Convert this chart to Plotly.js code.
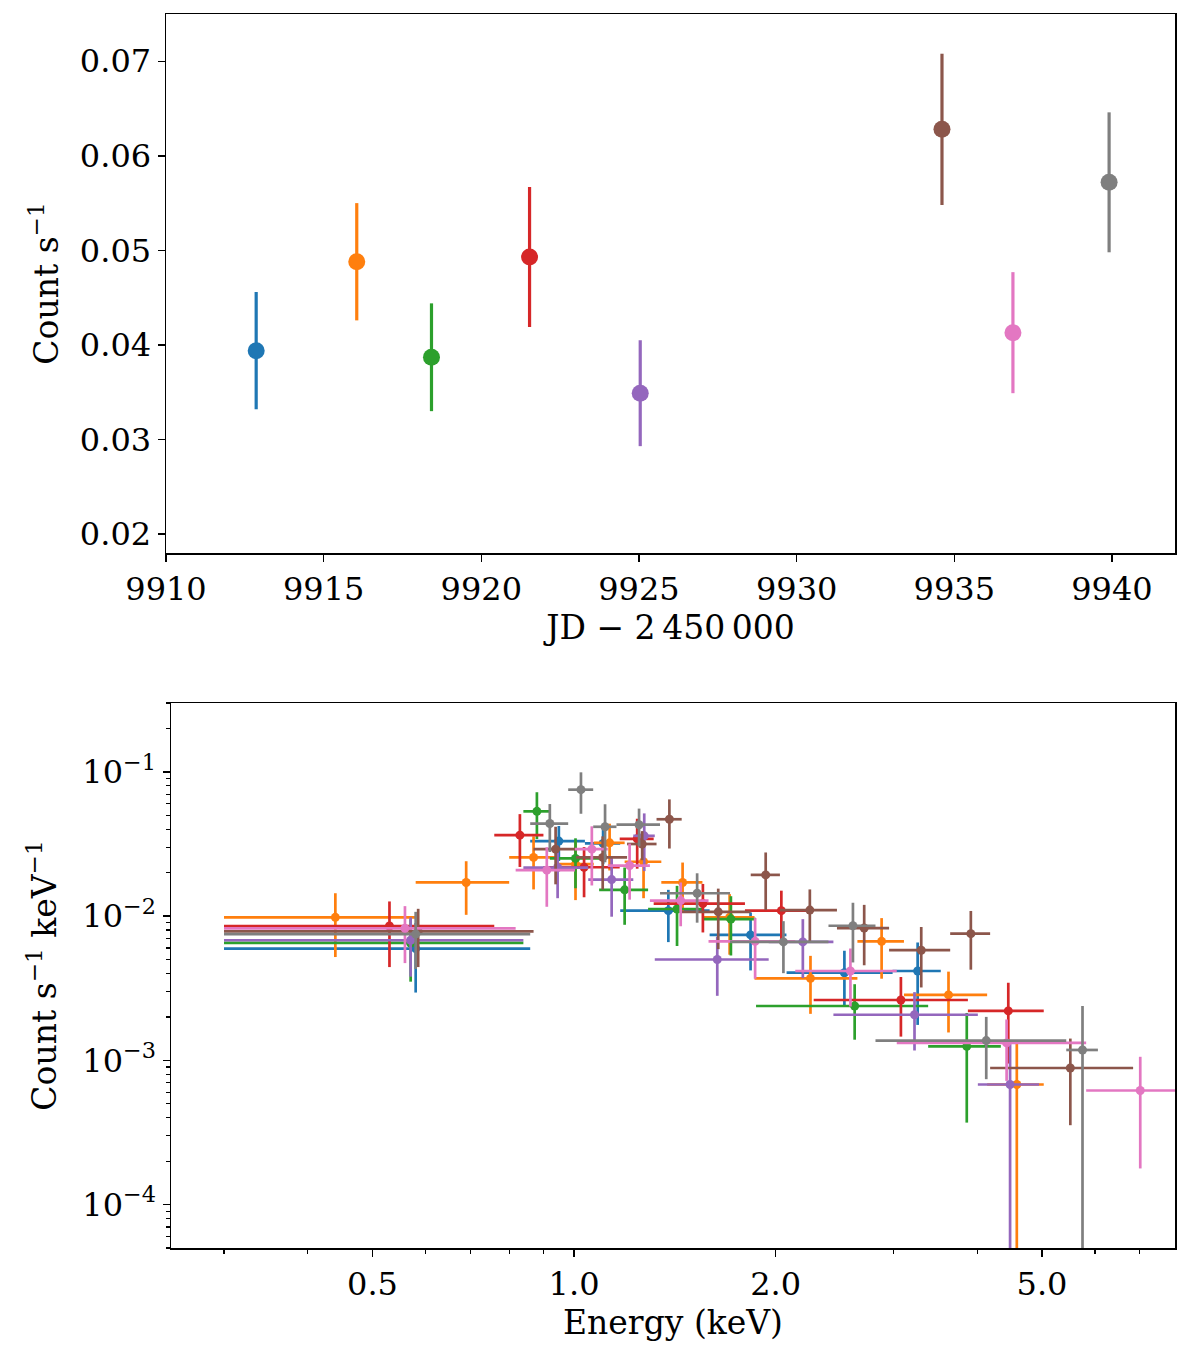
<!DOCTYPE html>
<html>
<head>
<meta charset="utf-8">
<script src="https://cdn.plot.ly/plotly-3.0.1.min.js"></script>
<style>
  html, body { margin: 0; padding: 0; background: #ffffff; }
  #chart { width: 1200px; height: 1354px; }
</style>
</head>
<body>
<div id="chart"></div>
<script>
// ---------- colours (matplotlib tab10) ----------
const colors = ['#1f77b4', '#ff7f0e', '#2ca02c', '#d62728', '#9467bd', '#8c564b', '#e377c2', '#7f7f7f'];

// ---------- top panel: light curve ----------
const jd      = [9912.86, 9916.05, 9918.42, 9921.53, 9925.04, 9934.61, 9936.86, 9939.91];
const rate    = [0.0394, 0.0488, 0.0387, 0.0493, 0.0349, 0.0628, 0.0413, 0.0572];
const rateErr = [0.0062, 0.0062, 0.0057, 0.0074, 0.0056, 0.0080, 0.0064, 0.0074];
const jdTicks     = [9910, 9915, 9920, 9925, 9930, 9935, 9940];
const jdTickText  = ['9910', '9915', '9920', '9925', '9930', '9935', '9940'];
const rateTicks   = [0.02, 0.03, 0.04, 0.05, 0.06, 0.07];

// ---------- bottom panel: spectra (energy centre, half bin width, rate, rate error) ----------
const e0  = [0.58, 0.949, 1.105, 1.383, 1.835, 2.534, 3.26];
const de0 = [0.28, 0.089, 0.067, 0.211, 0.241, 0.457, 0.27];
const r0  = [0.00595, 0.0331, 0.0319, 0.0109, 0.0074, 0.00405, 0.00416];
const dr0 = [0.0030, 0.0090, 0.0090, 0.0043, 0.0032, 0.0017, 0.0024];

const e1  = [0.44, 0.69, 0.87, 1.005, 1.13, 1.27, 1.4525, 1.7075, 2.255, 2.88, 3.625, 4.585];
const de1 = [0.14, 0.11, 0.07, 0.065, 0.06, 0.08, 0.1025, 0.1525, 0.395, 0.23, 0.515, 0.445];
const r1  = [0.0098, 0.0171, 0.0255, 0.0229, 0.0322, 0.0238, 0.0171, 0.0098, 0.0037, 0.00668, 0.00284, 0.00068];
const dr1 = [0.0046, 0.0069, 0.0102, 0.0100, 0.0115, 0.0105, 0.0064, 0.0044, 0.0016, 0.0030, 0.00128, 0.0007];

const e2  = [0.57, 0.88, 1.005, 1.19, 1.425, 1.715, 2.625, 3.86];
const de2 = [0.27, 0.04, 0.085, 0.10, 0.135, 0.155, 0.755, 0.48];
const r2  = [0.00651, 0.0532, 0.0251, 0.0152, 0.0112, 0.00953, 0.00238, 0.00125];
const dr2 = [0.0030, 0.019, 0.0095, 0.0065, 0.0050, 0.0042, 0.00099, 0.00088];

const e3  = [0.53, 0.83, 1.035, 1.2425, 1.5575, 2.04, 3.0775, 4.4525];
const de3 = [0.23, 0.07, 0.135, 0.0725, 0.2425, 0.24, 0.7975, 0.5775];
const r3  = [0.00853, 0.0364, 0.0218, 0.0343, 0.0122, 0.0109, 0.00262, 0.0022];
const dr3 = [0.0041, 0.0145, 0.0083, 0.013, 0.0045, 0.0041, 0.00116, 0.00125];

const e4  = [0.57, 0.945, 1.138, 1.273, 1.6365, 2.1965, 3.225, 4.48];
const de4 = [0.27, 0.105, 0.088, 0.047, 0.3165, 0.2435, 0.785, 0.47];
const r4  = [0.0068, 0.0217, 0.0179, 0.036, 0.0050, 0.00662, 0.00207, 0.00068];
const dr4 = [0.0030, 0.0084, 0.0080, 0.0155, 0.0022, 0.0029, 0.0009, 0.0007];

const e5  = [0.585, 0.9385, 1.1035, 1.264, 1.388, 1.642, 1.933, 2.25, 2.7125, 3.3005, 3.9145, 5.5115];
const de5 = [0.285, 0.0685, 0.0965, 0.064, 0.06, 0.194, 0.097, 0.22, 0.2425, 0.3455, 0.2685, 1.3285];
const r5  = [0.00783, 0.0291, 0.0255, 0.0316, 0.0469, 0.0107, 0.0193, 0.0110, 0.00826, 0.0058, 0.00755, 0.000885];
const dr5 = [0.0034, 0.0125, 0.0102, 0.0072, 0.0175, 0.0048, 0.0083, 0.0043, 0.0037, 0.0026, 0.0033, 0.00053];

const e6  = [0.559, 0.9105, 1.063, 1.2105, 1.443, 1.864, 2.587, 4.427, 7.01];
const de6 = [0.259, 0.0925, 0.06, 0.0875, 0.145, 0.276, 0.447, 1.393, 1.19];
const r6  = [0.00822, 0.0208, 0.0291, 0.0224, 0.0128, 0.00668, 0.00416, 0.00132, 0.000618];
const dr6 = [0.0035, 0.0092, 0.0128, 0.0094, 0.0043, 0.0030, 0.0018, 0.0006, 0.00044];

const e7  = [0.58, 0.92, 1.024, 1.1125, 1.2505, 1.527, 2.0545, 2.6095, 4.1275, 5.7475];
const de7 = [0.28, 0.06, 0.044, 0.0445, 0.0935, 0.183, 0.3445, 0.2105, 1.3075, 0.3125];
const r7  = [0.0075, 0.0438, 0.0752, 0.0416, 0.043, 0.0144, 0.00662, 0.00857, 0.00137, 0.00118];
const dr7 = [0.0032, 0.016, 0.024, 0.018, 0.0126, 0.0054, 0.0026, 0.0038, 0.00063, 0.0012];

const energyTicks     = [0.5, 1, 2, 5];
const energyTickText  = ['0.5', '1.0', '2.0', '5.0'];
const energyMinor     = [0.3, 0.4, 0.6, 0.7, 0.8, 0.9, 3, 4, 6, 7];
const specTicks       = [1e-4, 1e-3, 1e-2, 1e-1];
const specTickText    = ['10<sup>−4</sup>', '10<sup>−3</sup>', '10<sup>−2</sup>', '10<sup>−1</sup>'];
const specMinor = [];
[1e-5, 1e-4, 1e-3, 1e-2, 1e-1].forEach(d => { for (let k = 2; k <= 9; k++) specMinor.push(k * d); });

const E  = [e0, e1, e2, e3, e4, e5, e6, e7];
const dE = [de0, de1, de2, de3, de4, de5, de6, de7];
const R  = [r0, r1, r2, r3, r4, r5, r6, r7];
const dR = [dr0, dr1, dr2, dr3, dr4, dr5, dr6, dr7];

// ---------- traces ----------
const traces = [];
for (let i = 0; i < jd.length; i++) {
  traces.push({
    x: [jd[i]], y: [rate[i]], type: 'scatter', mode: 'markers',
    marker: { color: colors[i], size: 17 },
    error_y: { type: 'data', array: [rateErr[i]], color: colors[i], thickness: 3.2, width: 0 },
    xaxis: 'x', yaxis: 'y', hoverinfo: 'skip'
  });
}
for (let i = 0; i < E.length; i++) {
  traces.push({
    x: E[i], y: R[i], type: 'scatter', mode: 'markers',
    marker: { color: colors[i], size: 9 },
    error_x: { type: 'data', array: dE[i], color: colors[i], thickness: 2.7, width: 0 },
    error_y: { type: 'data', array: dR[i], color: colors[i], thickness: 2.7, width: 0 },
    xaxis: 'x2', yaxis: 'y2', hoverinfo: 'skip'
  });
}

const FONT = 'DejaVu Serif, serif';
const tickFont = { family: FONT, size: 32, color: '#000' };
const titleFont = { family: FONT, size: 33, color: '#000' };
const W = 1200, H = 1354;
const common = {
  showline: true, mirror: true, linecolor: '#000', linewidth: 1.5,
  ticks: 'outside', ticklen: 7, tickwidth: 1.5, tickcolor: '#000',
  showgrid: false, zeroline: false, tickfont: tickFont
};

const layout = {
  width: W, height: H,
  margin: { l: 0, r: 0, t: 0, b: 0 },
  paper_bgcolor: '#fff', plot_bgcolor: '#fff',
  showlegend: false,
  xaxis: Object.assign({}, common, {
    domain: [166 / W, 1175 / W], range: [9910, 9942],
    tickmode: 'array', tickvals: jdTicks, ticktext: jdTickText, anchor: 'y',
    title: { text: 'JD − 2\u2009450\u2009000', font: titleFont, standoff: 4 }
  }),
  yaxis: Object.assign({}, common, {
    domain: [1 - 553 / H, 1 - 14 / H], range: [0.018, 0.075],
    tickmode: 'array', tickvals: rateTicks, tickformat: '.2f', anchor: 'x',
    title: { text: 'Count s<sup>−1</sup>', font: titleFont, standoff: 11 }
  }),
  xaxis2: Object.assign({}, common, {
    domain: [171 / W, 1175 / W], type: 'log',
    range: [Math.log10(0.25), Math.log10(7.9)],
    tickmode: 'array', tickvals: energyTicks, ticktext: energyTickText, anchor: 'y2',
    minor: { tickmode: 'array', tickvals: energyMinor, ticks: 'outside', ticklen: 4, tickwidth: 1.2, tickcolor: '#000', showgrid: false },
    title: { text: 'Energy (keV)', font: titleFont, standoff: 4 }
  }),
  yaxis2: Object.assign({}, common, {
    domain: [1 - 1248 / H, 1 - 703 / H], type: 'log',
    range: [Math.log10(5e-5), Math.log10(0.3)],
    tickmode: 'array', tickvals: specTicks, ticktext: specTickText, anchor: 'x2',
    minor: { tickmode: 'array', tickvals: specMinor, ticks: 'outside', ticklen: 4, tickwidth: 1.2, tickcolor: '#000', showgrid: false },
    title: { text: 'Count s<sup>−1</sup> keV<sup>−1</sup>', font: titleFont, standoff: 16 }
  })
};

Plotly.newPlot('chart', traces, layout, { staticPlot: true, displayModeBar: false });
</script>
</body>
</html>
